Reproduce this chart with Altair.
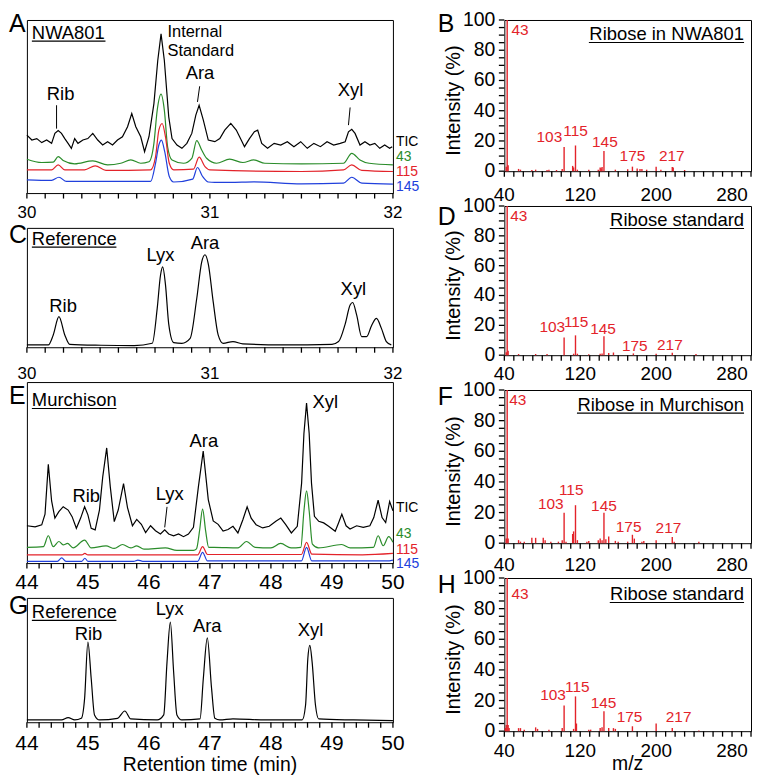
import altair as alt
import pandas as pd

FONT = "Liberation Sans"
RED = "#e3232a"
GREEN = "#2a8c2a"
BLUE = "#2140dc"
BLACK = "#000000"

# ---------------- Panel A : NWA801, 30-32 min ----------------
A_tic_t = [30.000, 30.027, 30.054, 30.081, 30.108, 30.135, 30.153, 30.171, 30.189, 30.207,
           30.225, 30.243, 30.261, 30.279, 30.306, 30.333, 30.360, 30.387, 30.414, 30.441,
           30.468, 30.495, 30.522, 30.550, 30.573, 30.595, 30.622, 30.643, 30.667, 30.694,
           30.715, 30.733, 30.751, 30.775, 30.793, 30.820, 30.847, 30.874, 30.901, 30.923,
           30.941, 30.964, 30.991, 31.027, 31.054, 31.081, 31.114, 31.144, 31.171, 31.189,
           31.216, 31.243, 31.261, 31.283, 31.315, 31.351, 31.387, 31.423, 31.459, 31.496,
           31.532, 31.568, 31.604, 31.640, 31.676, 31.712, 31.739, 31.757, 31.775, 31.793,
           31.820, 31.847, 31.874, 31.901, 31.928, 31.955, 31.982, 31.996]
A_tic_y = [31.5, 28.8, 29.6, 27.4, 28.8, 27.0, 32.4, 33.9, 32.4, 29.6,
           27.0, 24.3, 29.6, 27.0, 28.8, 29.6, 32.4, 28.8, 26.1, 27.9,
           26.1, 28.8, 30.6, 36.0, 43.2, 36.0, 30.6, 22.5, 30.6, 48.6,
           72.0, 86.5, 72.0, 41.4, 29.6, 26.1, 24.3, 27.0, 32.4, 42.3,
           47.7, 39.6, 28.8, 27.9, 29.6, 34.2, 37.8, 34.2, 28.8, 25.2,
           29.6, 33.3, 34.2, 27.0, 24.3, 27.0, 26.1, 27.9, 25.2, 27.9,
           24.3, 27.0, 25.2, 27.9, 26.1, 27.0, 27.9, 33.3, 34.6, 32.4,
           26.1, 27.9, 26.1, 27.0, 24.3, 26.1, 24.3, 25.2]
A_43_t = [30.000, 30.081, 30.144, 30.171, 30.198, 30.261, 30.360, 30.441, 30.513, 30.568,
          30.622, 30.667, 30.694, 30.712, 30.733, 30.751, 30.769, 30.793, 30.856, 30.901,
          30.928, 30.955, 30.982, 31.036, 31.108, 31.180, 31.240, 31.300, 31.500, 31.730,
          31.775, 31.820, 31.870, 32.000]
A_43_y = [18.4, 16.6, 16.8, 19.8, 17.7, 15.9, 17.5, 15.3, 16.2, 18.0,
          16.2, 17.0, 27.0, 45.0, 53.7, 45.0, 25.0, 18.0, 16.2, 18.9,
          28.5, 23.4, 18.9, 16.2, 18.4, 16.6, 18.0, 16.2, 15.9, 16.2,
          21.6, 18.0, 16.2, 15.3]
A_115_t = [30.000, 30.135, 30.171, 30.207, 30.315, 30.373, 30.432, 30.676, 30.703, 30.721,
           30.739, 30.757, 30.778, 30.802, 30.910, 30.941, 30.973, 31.000, 31.500, 31.730,
           31.775, 31.830, 32.000]
A_115_y = [12.6, 12.6, 15.3, 12.6, 12.6, 14.8, 12.3, 12.6, 19.8, 34.2,
           37.8, 30.6, 16.2, 12.6, 13.0, 19.5, 14.4, 12.6, 11.7, 12.6,
           15.3, 12.3, 11.7]
A_145_t = [30.000, 30.135, 30.175, 30.216, 30.676, 30.703, 30.721, 30.735, 30.753, 30.778,
           30.802, 30.906, 30.932, 30.960, 30.991, 31.027, 31.110, 31.240, 31.500, 31.730,
           31.775, 31.830, 32.000]
A_145_y = [7.2, 6.9, 8.6, 6.3, 6.3, 16.2, 26.1, 28.8, 22.5, 9.0,
           6.0, 7.6, 13.9, 9.0, 6.0, 5.8, 5.8, 6.1, 5.0, 5.4,
           8.6, 5.4, 4.9]

# ---------------- Panel C : reference, 30-32 min ----------------
C_t = [30.000, 30.117, 30.144, 30.175, 30.207, 30.234, 30.405, 30.586, 30.685, 30.712,
       30.730, 30.742, 30.757, 30.775, 30.802, 30.847, 30.892, 30.928, 30.955, 30.973,
       30.991, 31.018, 31.045, 31.072, 31.126, 31.180, 31.396, 31.667, 31.703, 31.739,
       31.766, 31.780, 31.802, 31.829, 31.856, 31.883, 31.910, 31.937, 31.964, 31.991]
C_y = [1.9, 1.9, 10.0, 24.8, 10.0, 2.4, 1.6, 1.3, 3.2, 31.5,
       58.4, 65.1, 51.0, 18.8, 3.8, 3.2, 7.2, 39.5, 69.1, 75.0,
       67.7, 36.8, 10.0, 3.2, 4.6, 2.7, 1.9, 2.4, 4.6, 18.8,
       34.2, 36.3, 26.0, 8.6, 8.6, 17.5, 23.4, 15.3, 4.6, 1.9]

# ---------------- Panel E : Murchison, 44-50 min ----------------
E_tic_t = [44.000, 44.135, 44.243, 44.297, 44.351, 44.405, 44.459, 44.524, 44.595, 44.676,
           44.741, 44.811, 44.881, 44.946, 45.000, 45.054, 45.119, 45.189, 45.243, 45.308,
           45.367, 45.432, 45.497, 45.584, 45.649, 45.730, 45.800, 45.876, 45.946, 46.027,
           46.108, 46.189, 46.259, 46.324, 46.405, 46.486, 46.567, 46.648, 46.730, 46.811,
           46.890, 46.973, 47.054, 47.135, 47.216, 47.297, 47.378, 47.459, 47.540, 47.610,
           47.676, 47.757, 47.865, 47.973, 48.081, 48.162, 48.243, 48.335, 48.432, 48.503,
           48.541, 48.584, 48.627, 48.665, 48.713, 48.784, 48.865, 48.946, 49.054, 49.108,
           49.162, 49.232, 49.297, 49.405, 49.513, 49.622, 49.686, 49.757, 49.822, 49.881,
           49.946, 50.000]
E_tic_y = [20.9, 20.3, 21.4, 27.4, 55.3, 34.8, 25.2, 28.8, 31.6, 29.7,
           26.0, 19.5, 25.2, 31.6, 27.0, 19.5, 18.6, 29.7, 48.3, 64.5,
           42.7, 23.2, 29.7, 44.5, 31.1, 20.9, 24.5, 21.7, 17.1, 20.9,
           18.1, 16.3, 18.6, 16.3, 15.3, 16.3, 14.8, 16.3, 20.0, 42.7,
           62.7, 35.6, 23.6, 21.7, 17.9, 18.8, 20.6, 16.9, 24.3, 31.5,
           25.2, 21.5, 19.7, 20.6, 23.4, 25.2, 21.5, 16.9, 20.6, 44.8,
           72.6, 89.6, 72.6, 44.8, 26.2, 23.4, 22.5, 20.6, 17.8, 22.5,
           27.4, 20.9, 19.1, 20.9, 20.0, 20.9, 25.5, 35.2, 25.5, 22.7,
           34.5, 29.3]
E_43_t = [44.000, 44.270, 44.351, 44.432, 44.524, 44.595, 44.665, 44.757, 44.946, 45.054,
          45.297, 45.432, 45.568, 45.703, 45.800, 45.919, 46.270, 46.459, 46.730, 46.780,
          46.830, 46.880, 46.930, 46.980, 47.070, 47.460, 47.600, 47.740, 48.000, 48.160,
          48.330, 48.490, 48.541, 48.584, 48.627, 48.680, 48.780, 49.160, 49.300, 49.680,
          49.757, 49.840, 49.930, 50.000]
E_43_y = [8.8, 9.2, 15.3, 9.2, 12.1, 10.2, 11.0, 8.5, 12.9, 8.5,
          9.6, 8.2, 10.4, 8.5, 9.6, 7.8, 8.5, 7.1, 7.1, 8.0,
          18.0, 30.2, 18.0, 8.8, 8.8, 8.5, 12.1, 8.8, 8.5, 11.0,
          8.5, 8.8, 29.2, 40.4, 29.2, 10.6, 8.5, 10.4, 8.5, 8.8,
          15.3, 9.7, 14.8, 11.7]
E_115_t = [44.00, 44.90, 44.95, 45.00, 46.80, 46.88, 46.96, 48.50, 48.584, 48.67, 49.50, 50.00]
E_115_y = [4.6, 4.6, 5.4, 4.6, 4.6, 9.2, 4.8, 4.8, 11.6, 5.0, 4.6, 5.4]
E_145_t = [44.00, 44.50, 44.57, 44.64, 44.90, 44.95, 45.00, 45.75, 45.82, 45.90,
           46.80, 46.88, 46.96, 48.50, 48.584, 48.67, 49.90, 50.00]
E_145_y = [1.0, 1.0, 2.9, 1.0, 1.0, 2.7, 1.0, 1.0, 1.7, 1.0,
           1.0, 6.0, 1.2, 1.2, 8.8, 1.2, 1.2, 1.7]

# ---------------- Panel G : reference, 44-50 min ----------------
G_t = [44.000, 44.568, 44.676, 44.784, 44.892, 44.946, 45.000, 45.054, 45.108, 45.189,
       45.486, 45.605, 45.703, 46.135, 46.243, 46.297, 46.351, 46.405, 46.459, 46.540,
       46.838, 46.892, 46.957, 47.027, 47.081, 47.160, 47.378, 47.919, 48.513, 48.568,
       48.605, 48.638, 48.675, 48.730, 48.784, 49.350, 50.000]
G_y = [1.8, 1.8, 3.7, 1.8, 3.1, 18.9, 63.5, 34.6, 5.8, 1.8,
       3.1, 8.9, 2.6, 1.8, 5.8, 47.8, 79.3, 40.0, 5.8, 1.8,
       2.6, 34.6, 66.7, 26.8, 3.1, 1.8, 2.6, 1.8, 1.8, 13.6,
       50.4, 60.9, 47.8, 13.6, 2.6, 1.8, 1.3]

# ---------------- Mass spectra (m/z, relative intensity %) ----------------
B_mz = [42, 43, 44, 55, 57, 69, 73, 85, 87, 95, 101, 103, 112, 113, 115, 117, 129, 139, 141,
        142, 143, 145, 157, 170, 175, 180, 183, 185, 190, 200, 205, 217, 218, 230]
B_int = [3, 100, 4, 1.5, 1, 0.8, 1, 0.8, 1, 0.8, 1.5, 16, 3.5, 2.5, 17, 1, 1, 1, 2.5,
         2, 2.8, 13.3, 1, 1.3, 3, 1.8, 1.5, 1.5, 1, 3, 1, 2.8, 2.5, 0.8]
D_mz = [42, 43, 44, 55, 73, 85, 103, 113, 115, 117, 129, 141, 143, 145, 150, 155, 176, 200, 217, 242]
D_int = [2, 100, 3, 0.8, 0.8, 0.8, 11.8, 1.0, 13.3, 1.0, 0.6, 1.0, 1.2, 12.7, 1.5, 1.8, 1.2, 1.0, 1.6, 0.8]
F_mz = [42, 43, 44, 55, 57, 61, 69, 73, 81, 83, 89, 97, 101, 103, 105, 112, 113, 115, 117,
        127, 129, 139, 141, 143, 145, 147, 150, 157, 160, 170, 175, 177, 185, 187, 200, 217, 219, 245]
F_int = [3, 100, 3, 2, 1, 1, 3.5, 3.5, 3.5, 2, 1, 1, 2, 19.8, 1, 6, 7.7, 24.8, 2,
         1, 1.5, 2, 3, 2, 19.8, 2.5, 4.4, 1.5, 1, 1, 5.5, 3, 1, 1.5, 2, 4, 1, 1]
H_mz = [41, 42, 43, 44, 45, 55, 57, 61, 73, 75, 87, 101, 103, 113, 115, 116, 129, 131, 141,
        143, 145, 150, 155, 157, 175, 200, 217, 245]
H_int = [2, 4, 100, 4, 2, 2, 2, 1, 2.5, 1.5, 1, 2, 16.8, 1.5, 22.7, 5, 1, 1, 2,
         2.5, 13, 2, 2, 1.5, 3.2, 5, 2, 0.5]

PEAK_LABELS = ["103", "115", "145", "175", "217"]
B_lab_x = [87.5, 115, 146, 175, 216.5]
B_lab_y = [22.6, 26.6, 19.3, 9.9, 9.9]
D_lab_x = [90.5, 115.7, 144, 177.5, 214.5]
D_lab_y = [19, 22, 17.8, 6.2, 6.7]
F_lab_x = [89, 110.5, 145, 171, 213]
F_lab_y = [25.3, 34.5, 24, 10.3, 9.9]
H_lab_x = [91.3, 117, 144.6, 172, 223.7]
H_lab_y = [23.3, 28.7, 18.4, 9.3, 9.3]

# axis tick labels
TIME_A_LABELS = [30, 31, 32]
TIME_E_LABELS = [44, 45, 46, 47, 48, 49, 50]
MZ_LABELS = [40, 120, 200, 280]
INT_LABELS = [0, 20, 40, 60, 80, 100]

LW = 368
RW = 248
TICK_PX = 5.5


def df1():
    return pd.DataFrame({"k": [0]})


def chrom_panel(traces, xdom, ymax, tick_step, tick_labels, label_size, label_off, h, letter,
                letter_y, name, name_y, name_w, peaks, pointers, ion_labels, extra_text=None,
                xtitle=None):
    xs = alt.Scale(domain=xdom, nice=False, zero=False)
    ys = alt.Scale(domain=[0, ymax], nice=False, zero=False)
    X = lambda f: alt.X(f, scale=xs, axis=None)
    Y = lambda f: alt.Y(f, scale=ys, axis=None)
    layers = []
    for t, y, col, interp in traces:
        d = pd.DataFrame({"t": t, "y": y})
        layers.append(alt.Chart(d).mark_line(color=col, strokeWidth=1.2, interpolate=interp,
                                             clip=False).encode(x=X("t:Q"), y=Y("y:Q")))
    # ticks along the time axis (outward, below the frame)
    n = int(round((xdom[1] - xdom[0]) / tick_step))
    tv = [round(xdom[0] + i * tick_step, 2) for i in range(n + 1)]
    ticks = pd.DataFrame({"t": tv, "a": [0.0] * len(tv), "b": [-ymax * TICK_PX / h] * len(tv)})
    layers.append(alt.Chart(ticks).mark_rule(color=BLACK, strokeWidth=1.3, clip=False).encode(
        x=X("t:Q"), y=Y("a:Q"), y2="b:Q"))
    tl = pd.DataFrame({"t": tick_labels, "lab": [str(v) for v in tick_labels]})
    layers.append(alt.Chart(tl).mark_text(fontSize=label_size, align="center", baseline="alphabetic",
                                          color=BLACK).encode(
        x=X("t:Q"), y=alt.value(h + label_off), text="lab:N"))
    if xtitle:
        layers.append(alt.Chart(df1()).mark_text(fontSize=19.5, align="center", baseline="alphabetic",
                                                 text=xtitle, color=BLACK).encode(
            x=alt.value(LW / 2), y=alt.value(h + 49)))
    pk = pd.DataFrame({"t": [p[1] for p in peaks], "y": [p[2] for p in peaks],
                       "lab": [p[0] for p in peaks]})
    layers.append(alt.Chart(pk).mark_text(fontSize=18.5, baseline="middle", align="center",
                                          color=BLACK).encode(x=X("t:Q"), y=Y("y:Q"), text="lab:N"))
    if extra_text:
        ed = pd.DataFrame({"t": [p[1] for p in extra_text], "y": [p[2] for p in extra_text],
                           "lab": [p[0] for p in extra_text]})
        layers.append(alt.Chart(ed).mark_text(fontSize=16.5, baseline="alphabetic", align="left",
                                              color=BLACK).encode(x=X("t:Q"), y=Y("y:Q"), text="lab:N"))
    if pointers:
        pdf = pd.DataFrame({"t1": [p[0] for p in pointers], "t2": [p[1] for p in pointers],
                            "y1": [p[2] for p in pointers], "y2": [p[3] for p in pointers]})
        layers.append(alt.Chart(pdf).mark_rule(color=BLACK, strokeWidth=1).encode(
            x=X("t1:Q"), x2="t2:Q", y=Y("y1:Q"), y2="y2:Q"))
    if ion_labels:
        idf = pd.DataFrame({"lab": [p[0] for p in ion_labels], "y": [p[1] for p in ion_labels],
                            "c": [p[2] for p in ion_labels]})
        layers.append(alt.Chart(idf).mark_text(fontSize=14, align="left", baseline="middle").encode(
            x=alt.value(LW + 3), y=Y("y:Q"), text="lab:N", color=alt.Color("c:N", scale=None)))
    layers.append(alt.Chart(df1()).mark_text(fontSize=18.5, align="left", baseline="alphabetic",
                                             text=name, color=BLACK).encode(
        x=alt.value(5), y=alt.value(name_y)))
    layers.append(alt.Chart(df1()).mark_rule(color=BLACK, strokeWidth=1.2).encode(
        x=alt.value(5), x2=alt.value(5 + name_w), y=alt.value(name_y + 2.3)))
    layers.append(alt.Chart(df1()).mark_text(fontSize=25, align="left", baseline="alphabetic",
                                             text=letter, color=BLACK).encode(
        x=alt.value(-18), y=alt.value(letter_y)))
    return alt.layer(*layers).properties(width=LW, height=h)


def spectrum_panel(mz, inten, lab_x, lab_y, lab43, h, letter, letter_y, name, name_y, name_w,
                   label_off, xtitle=None):
    xs = alt.Scale(domain=[40, 300], nice=False, zero=False)
    ys = alt.Scale(domain=[0, 100], nice=False, zero=True)
    X = lambda f: alt.X(f, scale=xs, axis=None)
    Y = lambda f: alt.Y(f, scale=ys, axis=None)
    d = pd.DataFrame({"mz": mz, "i": inten, "z": [0] * len(mz)})
    layers = [alt.Chart(d).mark_rule(color=RED, strokeWidth=1.4).encode(
        x=X("mz:Q"), y=Y("i:Q"), y2="z:Q")]
    # x ticks + labels
    xv = list(range(40, 301, 10))
    xt = pd.DataFrame({"mz": xv, "a": [0.0] * len(xv), "b": [-100.0 * TICK_PX / h] * len(xv)})
    layers.append(alt.Chart(xt).mark_rule(color=BLACK, strokeWidth=1.3, clip=False).encode(
        x=X("mz:Q"), y=Y("a:Q"), y2="b:Q"))
    xl = pd.DataFrame({"mz": MZ_LABELS, "lab": [str(v) for v in MZ_LABELS]})
    layers.append(alt.Chart(xl).mark_text(fontSize=19, align="center", baseline="alphabetic",
                                          color=BLACK).encode(
        x=X("mz:Q"), y=alt.value(h + label_off), text="lab:N"))
    # y ticks + labels
    yv = list(range(0, 101, 5))
    yt = pd.DataFrame({"i": yv, "a": [40.0] * len(yv), "b": [40.0 - 260.0 * TICK_PX / RW] * len(yv)})
    layers.append(alt.Chart(yt).mark_rule(color=BLACK, strokeWidth=1.3, clip=False).encode(
        y=Y("i:Q"), x=X("a:Q"), x2="b:Q"))
    yl = pd.DataFrame({"i": INT_LABELS, "lab": [str(v) for v in INT_LABELS]})
    layers.append(alt.Chart(yl).mark_text(fontSize=19.5, align="right", baseline="middle",
                                          color=BLACK).encode(
        y=Y("i:Q"), x=alt.value(-9), text="lab:N"))
    layers.append(alt.Chart(df1()).mark_text(fontSize=20, align="center", baseline="alphabetic",
                                             angle=270, text="Intensity (%)", color=BLACK).encode(
        x=alt.value(-45), y=alt.value(h / 2 + 5)))
    if xtitle:
        layers.append(alt.Chart(df1()).mark_text(fontSize=19.5, align="center", baseline="alphabetic",
                                                 text=xtitle, color=BLACK).encode(
            x=alt.value(RW / 2), y=alt.value(h + 39)))
    ld = pd.DataFrame({"mz": lab_x, "i": lab_y, "lab": PEAK_LABELS})
    layers.append(alt.Chart(ld).mark_text(fontSize=15.5, color=RED, align="center",
                                          baseline="middle").encode(
        x=X("mz:Q"), y=Y("i:Q"), text="lab:N"))
    l43 = pd.DataFrame({"mz": [lab43[0]], "i": [lab43[1]], "lab": ["43"]})
    layers.append(alt.Chart(l43).mark_text(fontSize=15.5, color=RED, align="left",
                                           baseline="middle").encode(
        x=X("mz:Q"), y=Y("i:Q"), text="lab:N"))
    layers.append(alt.Chart(df1()).mark_text(fontSize=18.5, align="right", baseline="alphabetic",
                                             text=name, color=BLACK).encode(
        x=alt.value(RW - 7), y=alt.value(name_y)))
    layers.append(alt.Chart(df1()).mark_rule(color=BLACK, strokeWidth=1.2).encode(
        x=alt.value(RW - 7 - name_w), x2=alt.value(RW - 7), y=alt.value(name_y + 2.3)))
    layers.append(alt.Chart(df1()).mark_text(fontSize=25, align="left", baseline="alphabetic",
                                             text=letter, color=BLACK).encode(
        x=alt.value(-67), y=alt.value(letter_y)))
    return alt.layer(*layers).properties(width=RW, height=h)


panel_A = chrom_panel(
    [(A_tic_t, A_tic_y, BLACK, "linear"), (A_43_t, A_43_y, GREEN, "monotone"),
     (A_115_t, A_115_y, RED, "monotone"), (A_145_t, A_145_y, BLUE, "monotone")],
    [30, 32], 94.0, 0.1, TIME_A_LABELS, 17, 25, 174, "A", 12, "NWA801", 19, 74,
    [("Rib", 30.184, 54.0), ("Ara", 30.946, 65.4), ("Xyl", 31.768, 55.7)],
    [(30.162, 30.162, 47.7, 35.0), (30.944, 30.932, 58.0, 49.5), (31.766, 31.757, 46.5, 36.9)],
    [("TIC", 27.5, BLACK), ("43", 19.6, GREEN), ("115", 11.5, RED), ("145", 3.4, BLUE)],
    extra_text=[("Internal", 30.768, 85.0), ("Standard", 30.768, 74.2)])

panel_C = chrom_panel(
    [(C_t, C_y, BLACK, "monotone")],
    [30, 32], 96.8, 0.1, TIME_A_LABELS, 17, 32, 120, "C", 15, "Reference", 17, 85,
    [("Rib", 30.198, 33.6), ("Lyx", 30.73, 74.5), ("Ara", 30.973, 84.4), ("Xyl", 31.784, 47.1)],
    [], [])

panel_E = chrom_panel(
    [(E_tic_t, E_tic_y, BLACK, "linear"), (E_43_t, E_43_y, GREEN, "monotone"),
     (E_115_t, E_115_y, RED, "monotone"), (E_145_t, E_145_y, BLUE, "monotone")],
    [44, 50], 101.4, 0.2, TIME_E_LABELS, 21, 26, 182, "E", 22, "Murchison", 24.3, 85,
    [("Rib", 44.973, 37.6), ("Lyx", 46.34, 38.5), ("Ara", 46.90, 68.2), ("Xyl", 48.89, 90.1)],
    [(46.297, 46.259, 31.5, 20.0)],
    [("TIC", 31.1, BLACK), ("43", 16.3, GREEN), ("115", 7.5, RED), ("145", -0.8, BLUE)])

panel_G = chrom_panel(
    [(G_t, G_y, BLACK, "monotone")],
    [44, 50], 98.4, 0.2, TIME_E_LABELS, 21, 28, 125, "G", 16, "Reference", 20.3, 85,
    [("Rib", 45.01, 70.0), ("Lyx", 46.34, 89.8), ("Ara", 46.957, 75.8), ("Xyl", 48.649, 72.7)],
    [], [], xtitle="Retention time (min)")

panel_B = spectrum_panel(B_mz, B_int, B_lab_x, B_lab_y, (47.5, 93.5), 152, "B", 12,
                         "Ribose in NWA801", 20.3, 156, 30)
panel_D = spectrum_panel(D_mz, D_int, D_lab_x, D_lab_y, (46.2, 93), 150, "D", 19,
                         "Ribose standard", 20.3, 135, 25)
panel_F = spectrum_panel(F_mz, F_int, F_lab_x, F_lab_y, (45.2, 93.4), 154, "F", 15,
                         "Ribose in Murchison", 21, 168, 28)
panel_H = spectrum_panel(H_mz, H_int, H_lab_x, H_lab_y, (47.5, 89.6), 154, "H", 15,
                         "Ribose standard", 22.3, 135, 26, xtitle="m/z")

left = alt.vconcat(panel_A, panel_C, panel_E, panel_G, spacing=35, bounds="flush")
right = alt.vconcat(panel_B, panel_D, panel_F, panel_H, spacing=35, bounds="flush")

chart = alt.hconcat(left, right, spacing=17).properties(
    padding={"left": 0, "top": -1, "right": 1, "bottom": 0}
).configure_view(stroke=BLACK, strokeWidth=1).configure_text(font=FONT)

chart.save("out.html", embed_options={"renderer": "svg", "actions": False})
